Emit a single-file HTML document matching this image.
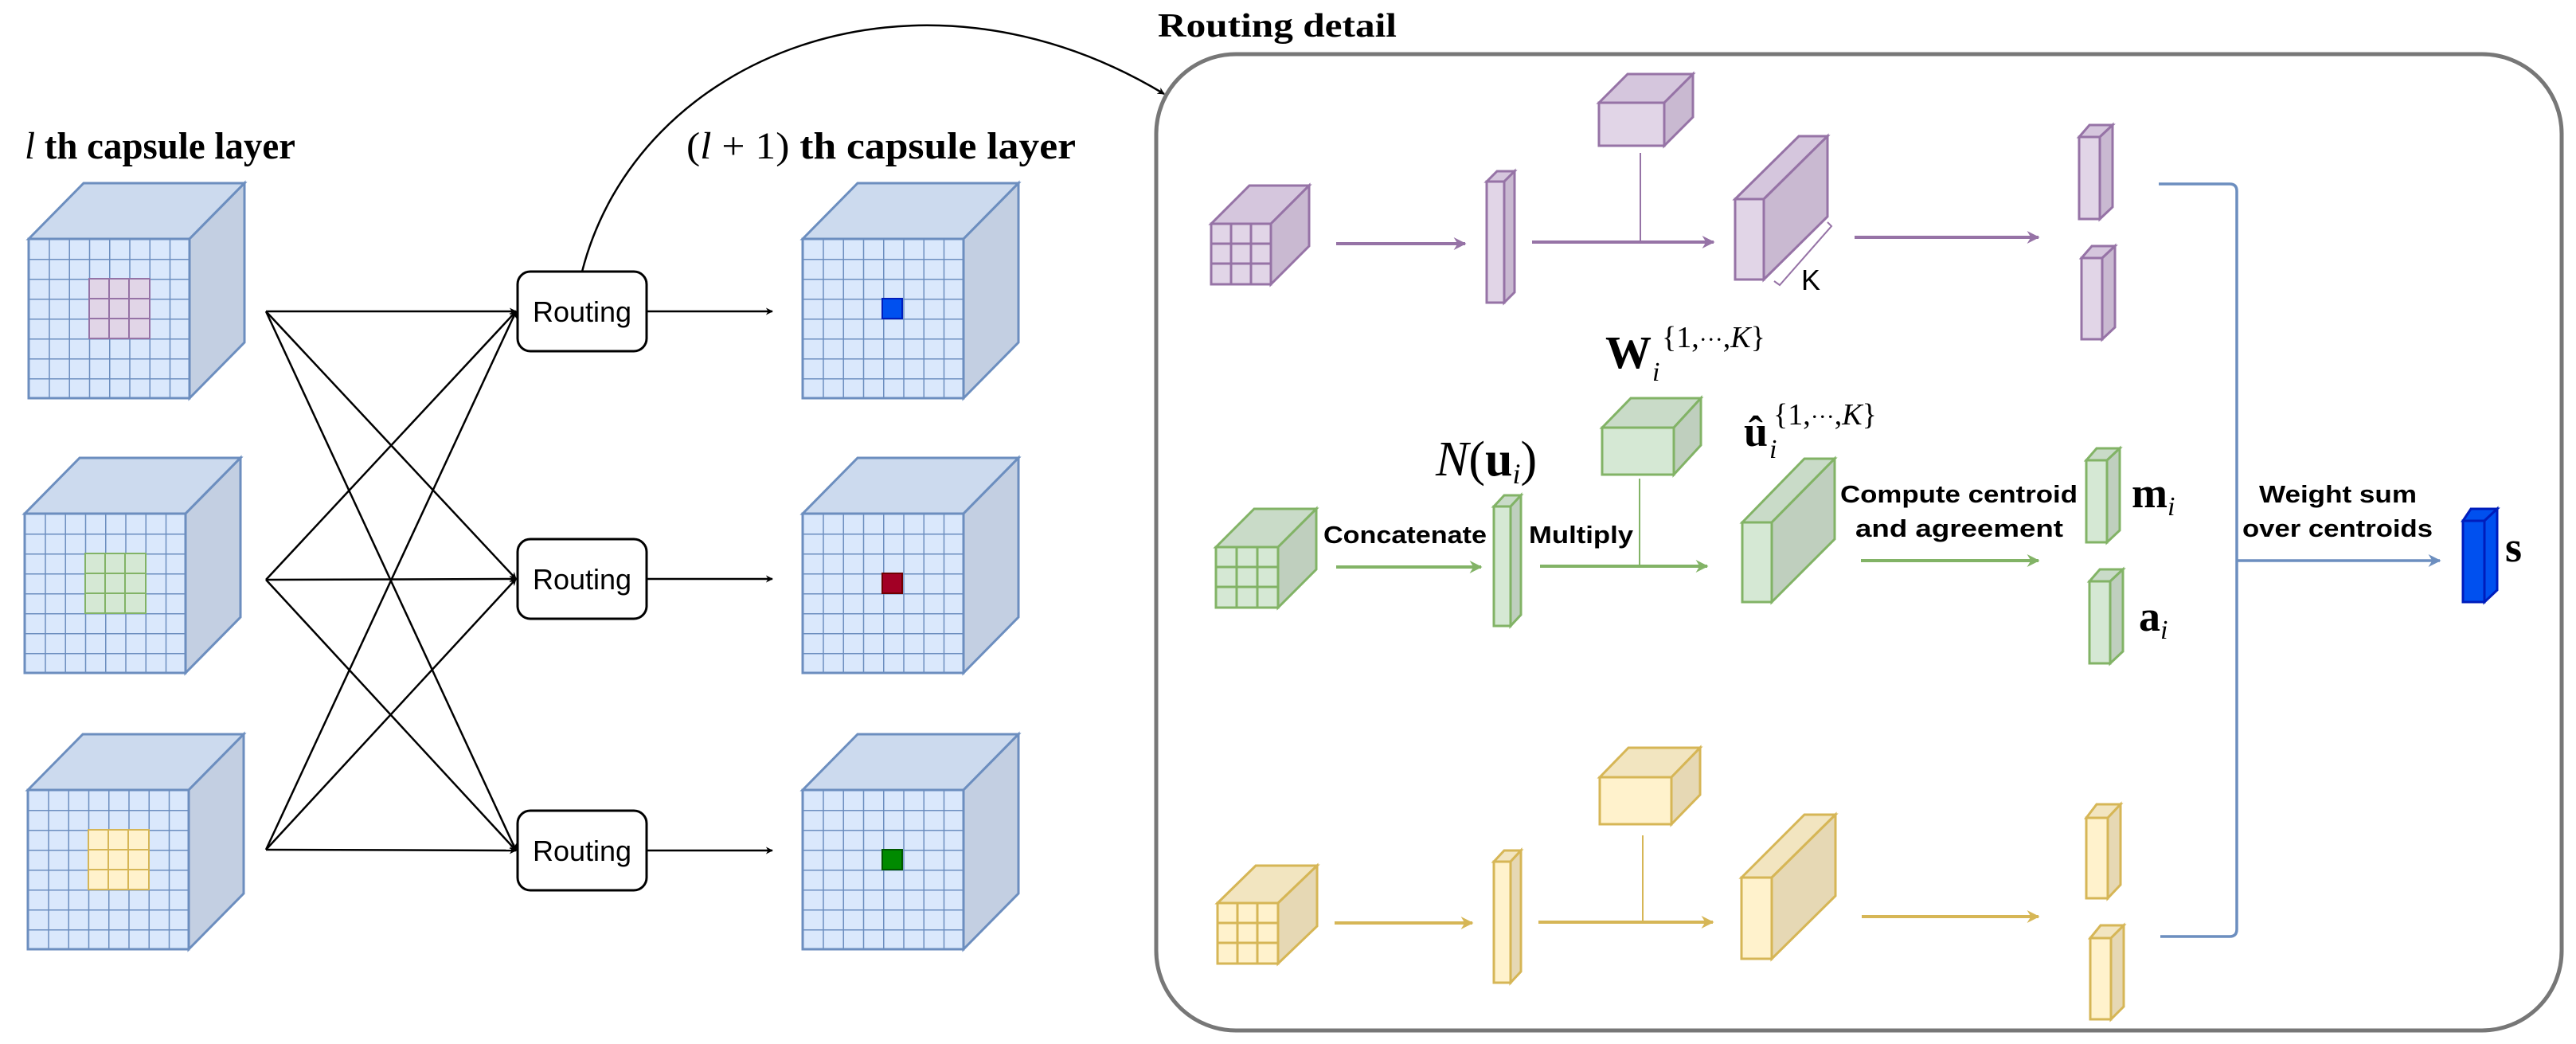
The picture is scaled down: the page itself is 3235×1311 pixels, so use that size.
<!DOCTYPE html>
<html><head><meta charset="utf-8"><style>
html,body{margin:0;padding:0;background:#fff;width:3235px;height:1311px;overflow:hidden}
svg{display:block}
.t{font-family:"Liberation Serif",serif;font-weight:bold}
.s{font-family:"Liberation Sans",sans-serif}
.m{font-family:"Liberation Serif",serif}
</style></head><body>
<svg width="3235" height="1311" viewBox="0 0 3235 1311" xmlns="http://www.w3.org/2000/svg">
<defs>
<pattern id="g" width="25.25" height="25" patternUnits="userSpaceOnUse">
<path d="M0 0H25.25M0 0V25" stroke="#6c8ebf" stroke-width="3" fill="none"/>
</pattern>
<marker id="ak" viewBox="0 0 10 10" refX="9" refY="5" markerWidth="9" markerHeight="9" orient="auto" markerUnits="userSpaceOnUse"><path d="M0 0L10 5L0 10L3 5z" fill="#000"/></marker>
<marker id="ap" viewBox="0 0 10 10" refX="9" refY="5" markerWidth="16" markerHeight="16" orient="auto" markerUnits="userSpaceOnUse"><path d="M0 0L10 5L0 10L3 5z" fill="#9673a6"/></marker>
<marker id="ag" viewBox="0 0 10 10" refX="9" refY="5" markerWidth="16" markerHeight="16" orient="auto" markerUnits="userSpaceOnUse"><path d="M0 0L10 5L0 10L3 5z" fill="#82b366"/></marker>
<marker id="ay" viewBox="0 0 10 10" refX="9" refY="5" markerWidth="16" markerHeight="16" orient="auto" markerUnits="userSpaceOnUse"><path d="M0 0L10 5L0 10L3 5z" fill="#d6b656"/></marker>
<marker id="ab" viewBox="0 0 10 10" refX="9" refY="5" markerWidth="16" markerHeight="16" orient="auto" markerUnits="userSpaceOnUse"><path d="M0 0L10 5L0 10L3 5z" fill="#6c8ebf"/></marker>
<g id="cube">
<polygon points="0,0 69,-70 271,-70 202,0" fill="#ccdaee" stroke="#6c8ebf" stroke-width="3"/>
<polygon points="202,0 271,-70 271,130 202,200" fill="#c3cfe2" stroke="#6c8ebf" stroke-width="3"/>
<rect x="0" y="0" width="202" height="200" fill="#dae8fc"/>
<rect x="0" y="0" width="202" height="200" fill="url(#g)" stroke="#6c8ebf" stroke-width="3"/>
</g>
</defs>

<!-- titles -->
<text x="31" y="199" class="t" font-size="48" textLength="340" lengthAdjust="spacingAndGlyphs"><tspan font-style="italic" font-weight="normal">l</tspan> th capsule layer</text>
<text x="862" y="199" class="t" font-size="48" textLength="489" lengthAdjust="spacingAndGlyphs"><tspan font-weight="normal">(<tspan font-style="italic">l</tspan> + 1)</tspan> th capsule layer</text>
<text x="1454" y="46" class="t" font-size="42" textLength="300" lengthAdjust="spacingAndGlyphs">Routing detail</text>

<!-- left cubes -->
<use href="#cube" x="36" y="300"/>
<rect x="112" y="350" width="76" height="75" fill="#e1d5e7" stroke="#9673a6" stroke-width="2"/>
<path d="M137 350V425M162 350V425M112 375H188M112 400H188" stroke="#9673a6" stroke-width="2"/>
<use href="#cube" x="31" y="645"/>
<rect x="107" y="695" width="76" height="75" fill="#d5e8d4" stroke="#82b366" stroke-width="2"/>
<path d="M132 695V770M157 695V770M107 720H183M107 745H183" stroke="#82b366" stroke-width="2"/>
<use href="#cube" x="35" y="992"/>
<rect x="111" y="1042" width="76" height="75" fill="#fff2cc" stroke="#d6b656" stroke-width="2"/>
<path d="M136 1042V1117M161 1042V1117M111 1067H187M111 1092H187" stroke="#d6b656" stroke-width="2"/>

<!-- right cubes -->
<use href="#cube" x="1008" y="300"/>
<rect x="1108" y="375" width="25" height="25" fill="#0050ef" stroke="#001dbc" stroke-width="2"/>
<use href="#cube" x="1008" y="645"/>
<rect x="1108" y="720" width="25" height="25" fill="#a20025" stroke="#6f0000" stroke-width="2"/>
<use href="#cube" x="1008" y="992"/>
<rect x="1108" y="1067" width="25" height="25" fill="#008a00" stroke="#005700" stroke-width="2"/>

<!-- connections -->
<g stroke="#000" stroke-width="2.5" fill="none" marker-end="url(#ak)">
<line x1="334" y1="391" x2="648" y2="391"/>
<line x1="334" y1="391" x2="648" y2="727"/>
<line x1="334" y1="391" x2="648" y2="1068"/>
<line x1="334" y1="728" x2="648" y2="391"/>
<line x1="334" y1="728" x2="648" y2="727"/>
<line x1="334" y1="728" x2="648" y2="1068"/>
<line x1="334" y1="1067" x2="648" y2="391"/>
<line x1="334" y1="1067" x2="648" y2="727"/>
<line x1="334" y1="1067" x2="648" y2="1068"/>
<line x1="812" y1="391" x2="970" y2="391"/>
<line x1="812" y1="727" x2="970" y2="727"/>
<line x1="812" y1="1068" x2="970" y2="1068"/>
<path d="M731 341 C800 70 1150 -70 1462 118"/>
</g>
<g fill="#fff" stroke="#000" stroke-width="3">
<rect x="650" y="341" width="162" height="100" rx="16"/>
<rect x="650" y="677" width="162" height="100" rx="16"/>
<rect x="650" y="1018" width="162" height="100" rx="16"/>
</g>
<g class="s" font-size="36" text-anchor="middle">
<text x="731" y="404">Routing</text>
<text x="731" y="740">Routing</text>
<text x="731" y="1081">Routing</text>
</g>

<!-- detail box -->
<rect x="1452" y="68" width="1765" height="1226" rx="100" fill="none" stroke="#777" stroke-width="5"/>

<!-- purple row -->
<g stroke="#9673a6" stroke-width="3">
<polygon points="1521,281 1569,233 1644,233 1596,281" fill="#d5c6dd"/>
<polygon points="1596,281 1644,233 1644,309 1596,357" fill="#c9b9d1"/>
<rect x="1521" y="281" width="75" height="76" fill="#e1d5e7"/>
<path d="M1546 281V357M1571 281V357M1521 306H1596M1521 331H1596" fill="none"/>
<polygon points="1867,228 1880,215 1902,215 1889,228" fill="#d5c6dd"/>
<polygon points="1889,228 1902,215 1902,367 1889,380" fill="#c9b9d1"/>
<rect x="1867" y="228" width="22" height="152" fill="#e1d5e7"/>
<polygon points="2008,129 2044,93 2126,93 2090,129" fill="#d5c6dd"/>
<polygon points="2090,129 2126,93 2126,147 2090,183" fill="#c9b9d1"/>
<rect x="2008" y="129" width="82" height="54" fill="#e1d5e7"/>
<polygon points="2179,250 2259,171 2295,171 2215,250" fill="#d5c6dd"/>
<polygon points="2215,250 2295,171 2295,272 2215,351" fill="#c9b9d1"/>
<rect x="2179" y="250" width="36" height="101" fill="#e1d5e7"/>
<polygon points="2611,172 2624,157 2653,157 2637,172" fill="#d5c6dd"/>
<polygon points="2637,172 2653,157 2653,260 2637,275" fill="#c9b9d1"/>
<rect x="2611" y="172" width="26" height="103" fill="#e1d5e7"/>
<polygon points="2614,324 2627,309 2656,309 2640,324" fill="#d5c6dd"/>
<polygon points="2640,324 2656,309 2656,411 2640,426" fill="#c9b9d1"/>
<rect x="2614" y="324" width="26" height="102" fill="#e1d5e7"/>
<line x1="2060" y1="192" x2="2060" y2="304" stroke-width="2"/>
</g>
<path d="M2295 279 L2300 284 L2235 358 L2228 353" fill="none" stroke="#9673a6" stroke-width="2"/>
<text x="2262" y="364" class="s" font-size="36">K</text>
<g stroke="#9673a6" stroke-width="4" fill="none">
<line x1="1678" y1="306" x2="1840" y2="306" marker-end="url(#ap)"/>
<line x1="1924" y1="304" x2="2152" y2="304" marker-end="url(#ap)"/>
<line x1="2329" y1="298" x2="2560" y2="298" marker-end="url(#ap)"/>
</g>

<!-- green row -->
<g stroke="#82b366" stroke-width="3">
<polygon points="1527,687 1575,639 1653,639 1605,687" fill="#c9dbc8"/>
<polygon points="1605,687 1653,639 1653,715 1605,763" fill="#bfcfbe"/>
<rect x="1527" y="687" width="78" height="76" fill="#d5e8d4"/>
<path d="M1553 687V763M1579 687V763M1527 712H1605M1527 737H1605" fill="none"/>
<polygon points="1876,636 1889,622 1910,622 1897,636" fill="#c9dbc8"/>
<polygon points="1897,636 1910,622 1910,772 1897,786" fill="#bfcfbe"/>
<rect x="1876" y="636" width="21" height="150" fill="#d5e8d4"/>
<polygon points="2012,537 2048,500 2136,500 2102,537" fill="#c9dbc8"/>
<polygon points="2102,537 2136,500 2136,559 2102,596" fill="#bfcfbe"/>
<rect x="2012" y="537" width="90" height="59" fill="#d5e8d4"/>
<polygon points="2188,656 2266,576 2304,576 2225,656" fill="#c9dbc8"/>
<polygon points="2225,656 2304,576 2304,677 2225,756" fill="#bfcfbe"/>
<rect x="2188" y="656" width="37" height="100" fill="#d5e8d4"/>
<polygon points="2620,578 2633,563 2662,563 2646,578" fill="#c9dbc8"/>
<polygon points="2646,578 2662,563 2662,666 2646,681" fill="#bfcfbe"/>
<rect x="2620" y="578" width="26" height="103" fill="#d5e8d4"/>
<polygon points="2624,730 2637,715 2666,715 2650,730" fill="#c9dbc8"/>
<polygon points="2650,730 2666,715 2666,818 2650,833" fill="#bfcfbe"/>
<rect x="2624" y="730" width="26" height="103" fill="#d5e8d4"/>
<line x1="2059" y1="601" x2="2059" y2="711" stroke-width="2"/>
</g>
<g stroke="#82b366" stroke-width="4" fill="none">
<line x1="1678" y1="712" x2="1860" y2="712" marker-end="url(#ag)"/>
<line x1="1934" y1="711" x2="2144" y2="711" marker-end="url(#ag)"/>
<line x1="2337" y1="704" x2="2560" y2="704" marker-end="url(#ag)"/>
</g>
<g class="s" font-weight="bold" font-size="31">
<text x="1662" y="682" textLength="205" lengthAdjust="spacingAndGlyphs">Concatenate</text>
<text x="1920" y="682" textLength="131" lengthAdjust="spacingAndGlyphs">Multiply</text>
<text x="2311" y="631" textLength="298" lengthAdjust="spacingAndGlyphs">Compute centroid</text>
<text x="2330" y="674" textLength="261" lengthAdjust="spacingAndGlyphs">and  agreement</text>
<text x="2837" y="631" textLength="198" lengthAdjust="spacingAndGlyphs">Weight sum</text>
<text x="2816" y="674" textLength="239" lengthAdjust="spacingAndGlyphs">over centroids</text>
</g>
<g class="m">
<text x="2016" y="462" font-size="58" font-weight="bold">W</text>
<text x="2087" y="436" font-size="38">{1,<tspan font-size="30">···</tspan>,<tspan font-style="italic">K</tspan>}</text>
<text x="2075" y="478" font-size="34" font-style="italic">i</text>
<text x="2190" y="560" font-size="54" font-weight="bold">û</text>
<text x="2227" y="533" font-size="38">{1,<tspan font-size="30">···</tspan>,<tspan font-style="italic">K</tspan>}</text>
<text x="2222" y="575" font-size="34" font-style="italic">i</text>
<text x="1803" y="597" font-size="62"><tspan font-style="italic">N</tspan>(<tspan font-weight="bold">u</tspan><tspan font-size="36" font-style="italic" dy="10">i</tspan><tspan dy="-10">)</tspan></text>
<text x="2677" y="637" font-size="54" font-weight="bold">m<tspan font-size="34" font-style="italic" font-weight="normal" dy="10">i</tspan></text>
<text x="2686" y="792" font-size="54" font-weight="bold">a<tspan font-size="34" font-style="italic" font-weight="normal" dy="10">i</tspan></text>
<text x="3146" y="705" font-size="54" font-weight="bold">s</text>
</g>

<!-- yellow row -->
<g stroke="#d6b656" stroke-width="3">
<polygon points="1529,1134 1577,1087 1654,1087 1605,1134" fill="#f2e5c0"/>
<polygon points="1605,1134 1654,1087 1654,1163 1605,1210" fill="#e6d8b4"/>
<rect x="1529" y="1134" width="76" height="76" fill="#fff2cc"/>
<path d="M1554 1134V1210M1579 1134V1210M1529 1159H1605M1529 1184H1605" fill="none"/>
<polygon points="1876,1082 1889,1068 1910,1068 1897,1082" fill="#f2e5c0"/>
<polygon points="1897,1082 1910,1068 1910,1220 1897,1234" fill="#e6d8b4"/>
<rect x="1876" y="1082" width="21" height="152" fill="#fff2cc"/>
<polygon points="2009,976 2045,939 2135,939 2099,976" fill="#f2e5c0"/>
<polygon points="2099,976 2135,939 2135,998 2099,1035" fill="#e6d8b4"/>
<rect x="2009" y="976" width="90" height="59" fill="#fff2cc"/>
<polygon points="2187,1102 2266,1023 2305,1023 2225,1102" fill="#f2e5c0"/>
<polygon points="2225,1102 2305,1023 2305,1125 2225,1204" fill="#e6d8b4"/>
<rect x="2187" y="1102" width="38" height="102" fill="#fff2cc"/>
<polygon points="2620,1027 2633,1010 2663,1010 2647,1027" fill="#f2e5c0"/>
<polygon points="2647,1027 2663,1010 2663,1111 2647,1128" fill="#e6d8b4"/>
<rect x="2620" y="1027" width="27" height="101" fill="#fff2cc"/>
<polygon points="2625,1178 2638,1162 2667,1162 2651,1178" fill="#f2e5c0"/>
<polygon points="2651,1178 2667,1162 2667,1264 2651,1280" fill="#e6d8b4"/>
<rect x="2625" y="1178" width="26" height="102" fill="#fff2cc"/>
<line x1="2063" y1="1049" x2="2063" y2="1158" stroke-width="2"/>
</g>
<g stroke="#d6b656" stroke-width="4" fill="none">
<line x1="1676" y1="1159" x2="1849" y2="1159" marker-end="url(#ay)"/>
<line x1="1932" y1="1158" x2="2151" y2="1158" marker-end="url(#ay)"/>
<line x1="2338" y1="1151" x2="2560" y2="1151" marker-end="url(#ay)"/>
</g>

<!-- blue bracket -->
<g stroke="#6c8ebf" stroke-width="3.5" fill="none">
<path d="M2711 231 H2800 Q2809 231 2809 240 V1167 Q2809 1176 2800 1176 H2713"/>
<line x1="2809" y1="704" x2="3064" y2="704" marker-end="url(#ab)"/>
</g>
<polygon points="3093,654 3103,639 3136,639 3120,654" fill="#0050ef" stroke="#001dbc" stroke-width="3"/>
<polygon points="3120,654 3136,639 3136,741 3120,756" fill="#0050ef" stroke="#001dbc" stroke-width="3"/>
<rect x="3093" y="654" width="27" height="102" fill="#0050ef" stroke="#001dbc" stroke-width="3"/>
</svg>
</body></html>
